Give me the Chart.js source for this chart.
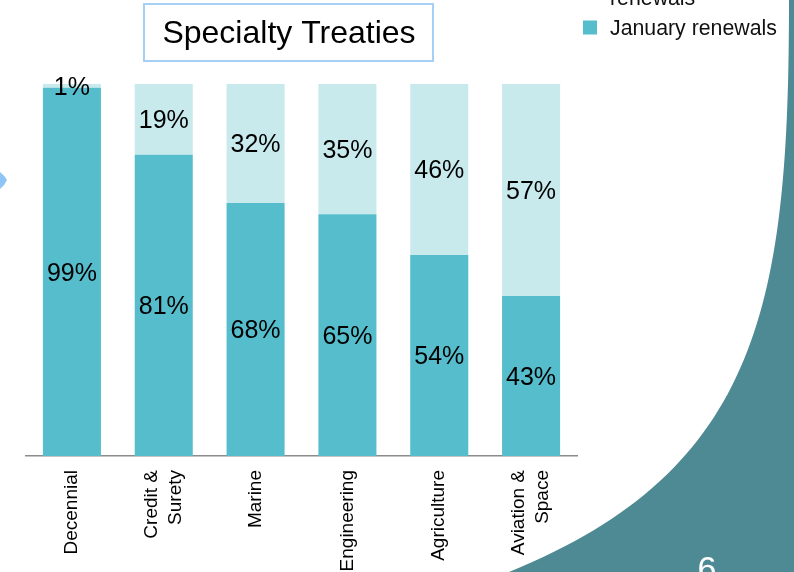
<!DOCTYPE html>
<html>
<head>
<meta charset="utf-8">
<script src="https://cdn.jsdelivr.net/npm/chart.js@4/dist/chart.umd.min.js"></script>
<style>
  html, body { margin: 0; padding: 0; background: #ffffff; }
  canvas { display: block; }
</style>
</head>
<body>
<canvas id="c" width="794" height="572"></canvas>
<script>
const chartTitle = "Specialty Treaties";
const categories = [["Decennial"], ["Credit &", "Surety"], ["Marine"], ["Engineering"], ["Agriculture"], ["Aviation &", "Space"]];
const januaryRenewals = [99, 81, 68, 65, 54, 43];
const otherRenewals = [1, 19, 32, 35, 46, 57];
const seriesNames = ["January renewals", ["", "renewals"]];
const pageNumber = "6";

const FONT = '"Liberation Sans", Arial, Helvetica, sans-serif';
const TEAL = '#55bdcb';
const LIGHT = '#c8eaed';

const decorPlugin = {
  id: 'decor',
  beforeDraw(chart) {
    const ctx = chart.ctx;
    ctx.save();
    ctx.fillStyle = '#ffffff';
    ctx.fillRect(0, 0, chart.width, chart.height);
    // right-side dark teal curved panel
    ctx.fillStyle = '#4e8a93';
    ctx.beginPath();
    ctx.moveTo(789, 0);
    ctx.bezierCurveTo(789, 300, 762, 470, 509, 572);
    ctx.lineTo(794, 572);
    ctx.lineTo(794, 0);
    ctx.closePath();
    ctx.fill();
    // small left pointer
    ctx.fillStyle = '#8ec5f5';
    ctx.beginPath();
    ctx.moveTo(0, 172);
    ctx.quadraticCurveTo(5, 176, 7, 180);
    ctx.quadraticCurveTo(5, 185, 0, 189);
    ctx.closePath();
    ctx.fill();
    // page number
    ctx.fillStyle = '#ffffff';
    ctx.font = '34px ' + FONT;
    ctx.textAlign = 'center';
    ctx.textBaseline = 'alphabetic';
    ctx.fillText(pageNumber, 707, 580);
    ctx.restore();
  },
  afterDraw(chart) {
    const ctx = chart.ctx;
    ctx.save();
    // title box
    ctx.fillStyle = '#ffffff';
    ctx.fillRect(144, 4, 289, 57);
    ctx.strokeStyle = '#a6cff5';
    ctx.lineWidth = 2;
    ctx.strokeRect(144, 4, 289, 57);
    ctx.fillStyle = '#000000';
    ctx.font = '32px ' + FONT;
    ctx.textAlign = 'center';
    ctx.textBaseline = 'middle';
    ctx.fillText(chartTitle, 289, 34);

    // legend (reverse order: top series first)
    const ds = chart.data.datasets;
    const order = [1, 0];
    ctx.font = '21.3px ' + FONT;
    ctx.textAlign = 'left';
    ctx.textBaseline = 'alphabetic';
    const baselines = [5, 35];
    order.forEach((di, k) => {
      const d = ds[di];
      const lines = Array.isArray(d.label) ? d.label : [d.label];
      const lastBase = baselines[k];
      const n = lines.length;
      const top = lastBase - 15 - (n - 1) * 30;
      const midY = (top + lastBase) / 2;
      ctx.fillStyle = d.backgroundColor;
      ctx.fillRect(583, midY - 7, 14, 14);
      ctx.fillStyle = '#111111';
      lines.forEach((ln, j) => {
        ctx.fillText(ln, 610, lastBase - (n - 1 - j) * 30);
      });
    });

    // category labels (rotated, multi-line centred on tick)
    const xs = chart.scales.x;
    ctx.fillStyle = '#000000';
    ctx.font = '19px ' + FONT;
    ctx.textAlign = 'right';
    ctx.textBaseline = 'middle';
    const lh = 24;
    chart.data.labels.forEach((lab, i) => {
      const lines = Array.isArray(lab) ? lab : [lab];
      const x = xs.getPixelForTick(i);
      ctx.save();
      ctx.translate(x, xs.top + 14);
      ctx.rotate(-Math.PI / 2);
      lines.forEach((ln, j) => {
        ctx.fillText(ln, 0, (j - (lines.length - 1) / 2) * lh);
      });
      ctx.restore();
    });

    // data labels centred in each segment
    ctx.font = '25px ' + FONT;
    ctx.textAlign = 'center';
    ctx.textBaseline = 'middle';
    ctx.fillStyle = '#000000';
    ds.forEach((d, di) => {
      const meta = chart.getDatasetMeta(di);
      meta.data.forEach((el, i) => {
        const v = d.data[i];
        const y = (el.y + el.base) / 2;
        ctx.fillText(v + '%', el.x, y + 2);
      });
    });
    ctx.restore();
  }
};

new Chart(document.getElementById('c'), {
  type: 'bar',
  data: {
    labels: categories,
    datasets: [
      { label: seriesNames[0], data: januaryRenewals, backgroundColor: TEAL, borderWidth: 0,
        categoryPercentage: 1, barPercentage: 0.632 },
      { label: seriesNames[1], data: otherRenewals, backgroundColor: LIGHT, borderWidth: 0,
        categoryPercentage: 1, barPercentage: 0.632 }
    ]
  },
  options: {
    responsive: false,
    animation: false,
    events: [],
    layout: { padding: { left: 26, right: 217, top: 84, bottom: 0 } },
    plugins: { legend: { display: false }, title: { display: false }, tooltip: { enabled: false } },
    scales: {
      x: {
        stacked: true,
        grid: { display: false, drawTicks: false },
        border: { display: true, color: '#8c8c8c', width: 1.5 },
        ticks: { display: false },
        afterFit(scale) { scale.height = 116; }
      },
      y: {
        stacked: true,
        display: false,
        min: 0,
        max: 100
      }
    }
  },
  plugins: [decorPlugin]
});
</script>
</body>
</html>
